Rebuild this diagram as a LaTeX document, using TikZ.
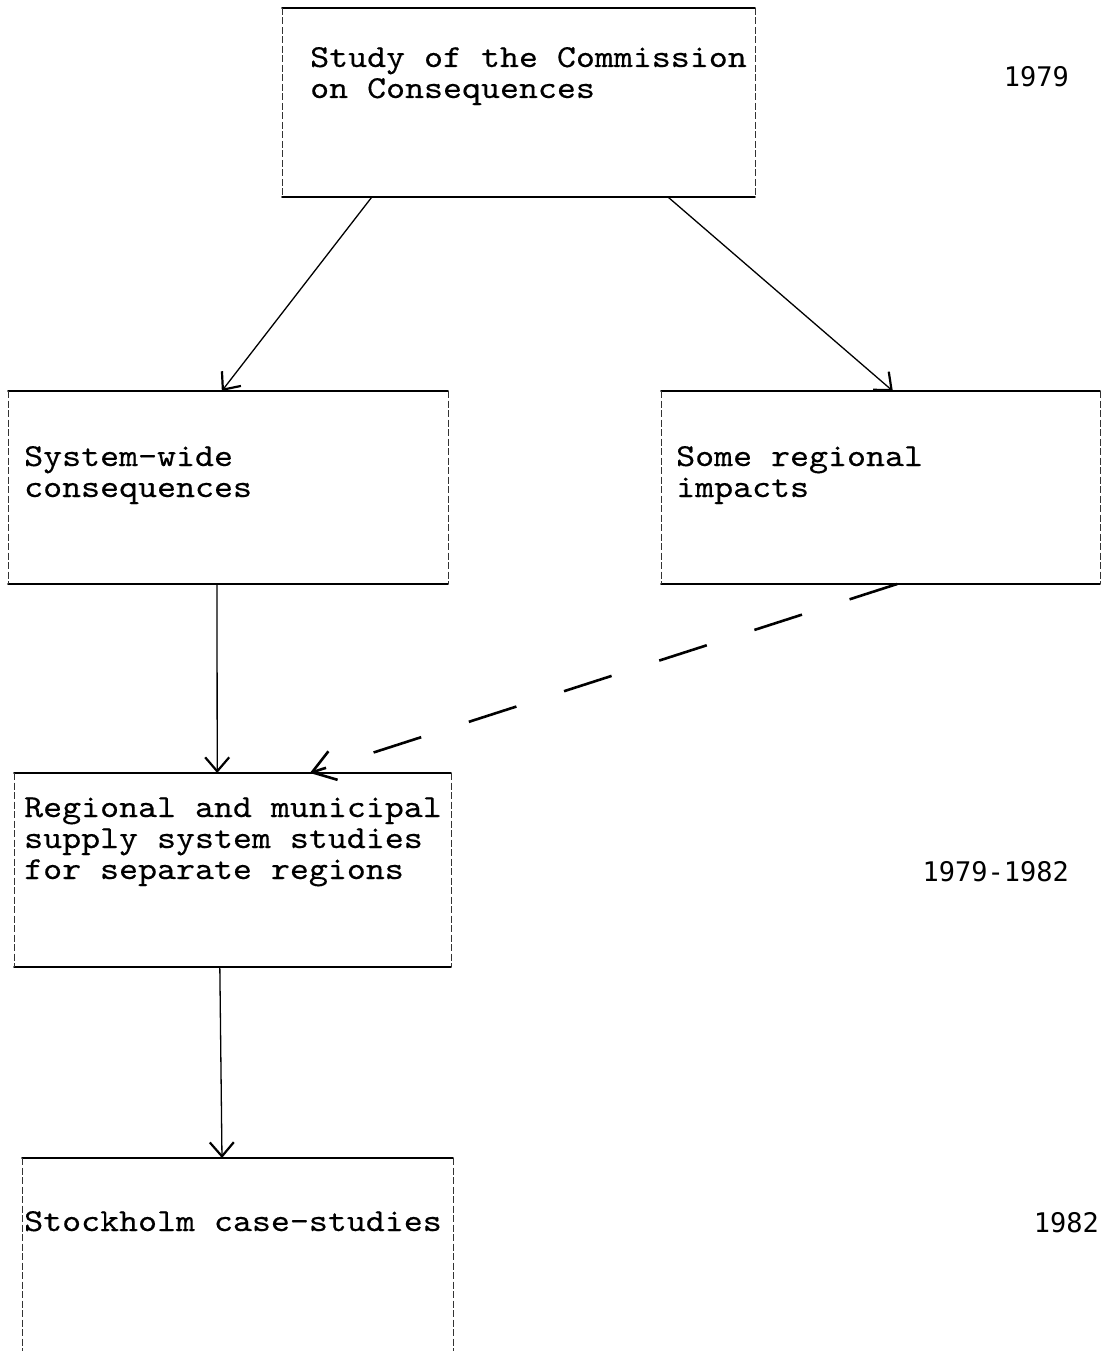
\documentclass[tikz,border=0pt]{standalone}
\usepackage{fontspec}
\newfontfamily\boxfont[FakeStretch=1.13,FakeBold=0.35]{lmmono10-regular.otf}
\newfontfamily\yearfont{DejaVu Sans Mono}
\usetikzlibrary{arrows.meta,calc}

\tikzset{
  panel/.style={draw=none,inner sep=0pt,outer sep=0pt},
  hedge/.style={line width=1.8pt,line cap=round},
  vedge/.style={line width=0.9pt,black!80,dash pattern=on 7pt off 2.5pt},
  boxtext/.style={anchor=base west,inner sep=0pt,font=\boxfont\fontsize{32}{31}\selectfont},
  yeartext/.style={anchor=base east,inner sep=0pt,font=\yearfont\fontsize{27}{31}\selectfont},
  flow/.style={line width=1.3pt,-{Straight Barb[length=14pt,width=24pt,line width=2.2pt]}},
  flowdash/.style={line width=2.6pt,dash pattern=on 50pt off 50pt,
    -{Straight Barb[length=22pt,width=30pt,line width=2.6pt]}}
}

% frame of a panel: solid top and bottom rules, broken side rules
\newcommand\framepanel[1]{%
  \draw[hedge] (#1.north west) -- (#1.north east);
  \draw[hedge] (#1.south west) -- (#1.south east);
  \draw[vedge] (#1.north west) -- (#1.south west);
  \draw[vedge] (#1.north east) -- (#1.south east);
}

\begin{document}
\begin{tikzpicture}[x=1pt,y=-1pt]
\useasboundingbox (0,0) rectangle (1103,1351);

% panels
\node[panel,minimum width=473pt,minimum height=189pt] (top) at (518.5,102.5) {};
\node[panel,minimum width=440pt,minimum height=193pt] (sys) at (228,487.5) {};
\node[panel,minimum width=439pt,minimum height=193pt] (imp) at (880.5,487.5) {};
\node[panel,minimum width=437pt,minimum height=194pt] (reg) at (232.5,870) {};
\node[panel,minimum width=431pt,minimum height=193pt] (sth) at (237.5,1254.5) {};

\framepanel{top}
\framepanel{sys}
\framepanel{imp}
\framepanel{reg}
% the last panel runs off the page, so it has no bottom rule
\draw[hedge] (sth.north west) -- (sth.north east);
\draw[vedge] (sth.north west) -- (sth.south west);
\draw[vedge] (sth.north east) -- (sth.south east);

% panel texts
\node[boxtext] (topText) at (310,67)
  {\vtop{\hbox{Study of the Commission}\hbox{on Consequences}}};
\node[boxtext] (sysText) at (24,466)
  {\vtop{\hbox{System-wide}\hbox{consequences}}};
\node[boxtext] (impText) at (676,466)
  {\vtop{\hbox{Some regional}\hbox{impacts}}};
\node[boxtext] (regText) at (24,817)
  {\vtop{\hbox{Regional and municipal}\hbox{supply system studies}\hbox{for separate regions}}};
\node[boxtext] (sthText) at (24,1231) {Stockholm case-studies};

% years
\node[yeartext] (y1) at (1069,87) {1979};
\node[yeartext] (y2) at (1069,881) {1979-1982};
\node[yeartext] (y3) at (1099,1232) {1982};

% connectors
\draw[flow] ($(top.south west)!0.19!(top.south east)$) -- ($(sys.north west)!0.486!(sys.north east)$);
\draw[flow] ($(top.south west)!0.816!(top.south east)$) -- ($(imp.north west)!0.528!(imp.north east)$);
\draw[flow] ($(sys.south west)!0.475!(sys.south east)$) -- ($(reg.north west)!0.465!(reg.north east)$);
\draw[flowdash] ($(imp.south west)!0.538!(imp.south east)$) -- ($(reg.north west)!0.677!(reg.north east)$);
\draw[flow] ($(reg.south west)!0.471!(reg.south east)$) -- ($(sth.north west)!0.464!(sth.north east)$);
\end{tikzpicture}
\end{document}
